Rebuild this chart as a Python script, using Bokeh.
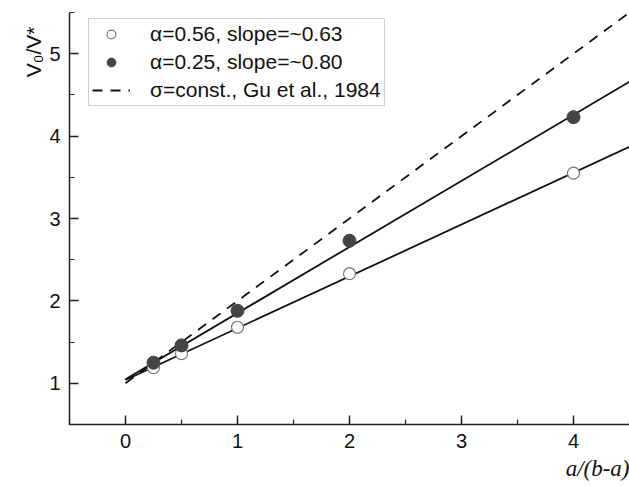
import math
from bokeh.plotting import figure
from bokeh.models import Range1d, SingleIntervalTicker, Legend, LegendItem, Title
from bokeh.embed import file_html
from bokeh.resources import INLINE

# data
x_pts = [0.25, 0.5, 1, 2, 4]
y_a056 = [1.19, 1.36, 1.68, 2.33, 3.55]
y_a025 = [1.25, 1.46, 1.88, 2.73, 4.23]

fit_x = [0.0, 4.5]
fit_a056 = [1.04, 3.87]
fit_a025 = [1.05, 4.66]
sigma_x = [0.0, 4.5]
sigma_y = [1.0, 5.5]

labels = ["\u03b1=0.56, slope=~0.63", "\u03b1=0.25, slope=~0.80", "\u03c3=const., Gu et al., 1984"]
y_title = "V\u2080/V*"
x_title = "a/(b-a)"

p = figure(width=629, height=486, output_backend="svg", toolbar_location=None,
           x_range=Range1d(-0.5, 4.5), y_range=Range1d(0.5, 5.5),
           min_border_left=69, min_border_right=0, min_border_top=12, min_border_bottom=62)
p.outline_line_color = None
p.xgrid.visible = False
p.ygrid.visible = False
p.background_fill_color = "white"

for ax in (p.xaxis[0], p.yaxis[0]):
    ax.ticker = SingleIntervalTicker(interval=1, num_minor_ticks=2)
    ax.axis_line_color = "#222222"
    ax.axis_line_width = 1.5
    ax.major_tick_line_color = "#222222"
    ax.minor_tick_line_color = "#222222"
    ax.major_tick_line_width = 1.5
    ax.minor_tick_line_width = 1.2
    ax.major_tick_in = 9
    ax.major_tick_out = 0
    ax.minor_tick_in = 5
    ax.minor_tick_out = 0
    ax.major_label_text_font = "Liberation Sans"
    ax.major_label_text_font_size = "20px"
    ax.major_label_text_color = "#111111"
    ax.major_label_standoff = 9

r_fit056 = p.line(fit_x, fit_a056, line_color="#111111", line_width=1.8)
r_fit025 = p.line(fit_x, fit_a025, line_color="#111111", line_width=1.8)
r_sigma = p.line(sigma_x, sigma_y, line_color="#111111", line_width=1.8, line_dash="10 8")

r_open = p.scatter(x_pts, y_a056, size=12, marker="circle", fill_color="white",
                   line_color="#777777", line_width=1.2)
r_fill = p.scatter(x_pts, y_a025, size=13, marker="circle", fill_color="#444444",
                   line_color="#444444", line_width=1)

legend = Legend(items=[LegendItem(label=labels[0], renderers=[r_open]),
                       LegendItem(label=labels[1], renderers=[r_fill]),
                       LegendItem(label=labels[2], renderers=[r_sigma])],
                location=(19, 318), orientation="vertical")
legend.label_text_font = "Liberation Sans"
legend.label_text_font_size = "21px"
legend.label_text_color = "#111111"
legend.border_line_color = "#999999"
legend.border_line_width = 1
legend.background_fill_alpha = 1
legend.padding = 3
legend.margin = 0
legend.spacing = 4
legend.glyph_width = 38
legend.glyph_height = 22
legend.label_height = 22
legend.label_standoff = 20
p.add_layout(legend, "center")

ytitle = Title(text=y_title, align="right", offset=14, standoff=4,
               text_font="Liberation Sans", text_font_size="21px",
               text_font_style="normal", text_color="#111111")
p.add_layout(ytitle, "left")

xtitle = Title(text=x_title, align="right", offset=0, standoff=7,
               text_font="Liberation Serif", text_font_size="23px",
               text_font_style="italic", text_color="#111111",
               text_line_height=0.8)
p.add_layout(xtitle, "below")

open("out.html", "w").write(file_html(p, INLINE))
